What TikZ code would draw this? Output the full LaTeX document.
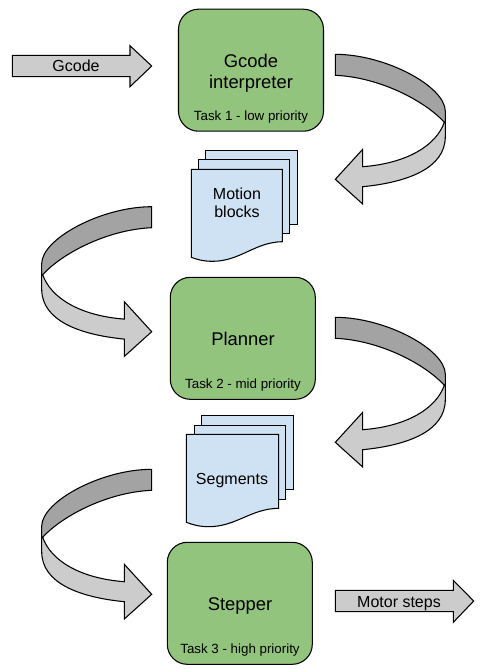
\documentclass[tikz,border=0pt]{standalone}
\usepackage{fontspec}
\setmainfont{Liberation Sans}
\definecolor{taskgreen}{HTML}{93C47D}
\definecolor{docblue}{HTML}{CFE2F3}
\definecolor{lightgrey}{HTML}{CCCCCC}
\definecolor{darkgrey}{HTML}{A3A3A3}
\tikzset{
  x=0.75pt,y=-0.75pt,
  outline/.style={draw=black,line width=0.8pt,line join=miter},
  taskbox/.style={outline,fill=taskgreen,rectangle,rounded corners=15pt,minimum width=108.75pt,minimum height=91.5pt,inner sep=0pt},
  sheet/.style={outline,fill=docblue},
  bigtext/.style={anchor=base,font=\fontsize{13.8}{16}\selectfont,inner sep=0pt},
  midtext/.style={anchor=base,font=\fontsize{12}{14}\selectfont,inner sep=0pt},
  smalltext/.style={anchor=base,font=\fontsize{10}{12}\selectfont,inner sep=0pt},
  arrowbody/.style={outline,fill=lightgrey},
  curvedarrow/.pic={
    \path[outline,fill=darkgrey] (0,0) .. controls (50,0) and (110,32) .. (110,57)
      -- (110,68) -- (109,68) .. controls (90,47) and (45,23) .. (0,21) -- cycle;
    \path[outline,fill=lightgrey] (109,68) .. controls (101,91) and (72,109) .. (27.4,112.4)
      -- (27.4,95) -- (0,125) -- (27.4,149.7) -- (27.4,132.4)
      .. controls (72,128) and (110,114) .. (110,82.4) -- (110,68) -- cycle;
  }
}
\newcommand{\docsheet}[4]{%
  \path[sheet] (#1,#2) rectangle (#3,#4);
}
\begin{document}
\begin{tikzpicture}
\useasboundingbox (0,0) rectangle (485,669);

% task boxes
\node[taskbox] (gcodebox) at (251,70.2) {};
\node[taskbox] (plannerbox) at (242.8,338.3) {};
\node[taskbox] (stepperbox) at (239.8,603.3) {};

\node[bigtext] (gcodeline) at (251,67) {Gcode};
\node[bigtext] (interpline) at (251,88) {interpreter};
\node[smalltext] (task1) at (251,120.7) {Task 1 - low priority};
\node[bigtext] (plannerlabel) at (243,345.3) {Planner};
\node[smalltext] (task2) at (243,388.3) {Task 2 - mid priority};
\node[bigtext] (stepperlabel) at (240,610.7) {Stepper};
\node[smalltext] (task3) at (240,653.3) {Task 3 - high priority};

% straight arrows
\path[arrowbody] (12.3,55.3) -- (130,55.3) -- (130,45.7) -- (151.7,66) -- (130,86.7) -- (130,76.7) -- (12.3,76.7) -- cycle;
\node[midtext] (gcodein) at (76,71.7) {Gcode};
\path[arrowbody] (335.3,590.3) -- (453.3,590.3) -- (453.3,580.3) -- (473.7,601) -- (453.3,622.3) -- (453.3,611.7) -- (335.3,611.7) -- cycle;
\node[midtext] (motorsteps) at (399,607.3) {Motor steps};

% curved arrows
\pic at (335.3,54.3) {curvedarrow};
\pic[xscale=-1] at (151.7,206.7) {curvedarrow};
\pic at (335.3,317.3) {curvedarrow};
\pic[xscale=-1] at (151.7,469.3) {curvedarrow};

% Motion blocks stack
\docsheet{205.3}{150.4}{297.7}{224.3}
\docsheet{198.3}{159.3}{289.7}{233.7}
\path[sheet] (191.3,169.3) -- (282.3,169.3) -- (282.3,241.7)
  .. controls (255,242) and (240,261.5) .. (212,261.3)
  .. controls (203,261.2) and (197,259.5) .. (191.3,257.3) -- cycle;
\node[midtext] (motion) at (237,199) {Motion};
\node[midtext] (blocks) at (237,217.7) {blocks};

% Segments stack
\docsheet{201.3}{415.3}{293.3}{489.3}
\docsheet{194.3}{425.3}{285.7}{499.3}
\path[sheet] (186.3,434.3) -- (278.7,434.3) -- (278.7,508.3)
  .. controls (251,508.5) and (236,526.9) .. (208,526.7)
  .. controls (199,526.6) and (192,524.5) .. (186.3,522.3) -- cycle;
\node[midtext] (segments) at (232,484) {Segments};
\end{tikzpicture}
\end{document}
